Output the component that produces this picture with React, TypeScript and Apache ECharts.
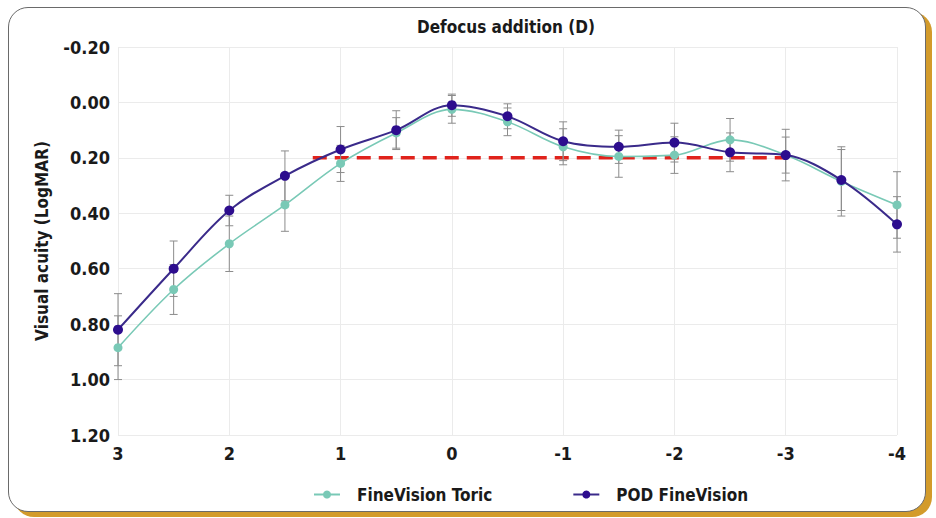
import React, { useEffect, useRef } from "react";
import * as echarts from "echarts";

const defocus = [3, 2.5, 2, 1.5, 1, 0.5, 0, -0.5, -1, -1.5, -2, -2.5, -3, -3.5, -4];
const toric = [0.885, 0.675, 0.51, 0.37, 0.22, 0.11, 0.025, 0.07, 0.16, 0.195, 0.19, 0.135, 0.19, 0.285, 0.37];
const toricSd = [0.115, 0.09, 0.1, 0.095, 0.065, 0.055, 0.05, 0.05, 0.065, 0.075, 0.066, 0.077, 0.065, 0.125, 0.12];
const pod = [0.82, 0.6, 0.39, 0.265, 0.17, 0.1, 0.01, 0.05, 0.14, 0.16, 0.145, 0.18, 0.19, 0.28, 0.44];
const podSd = [0.13, 0.1, 0.055, 0.09, 0.083, 0.07, 0.04, 0.045, 0.07, 0.06, 0.07, 0.07, 0.093, 0.11, 0.1];
const thresholdX = [1.25, -3];
const thresholdY = 0.2;
const seriesNames = ["FineVision Toric", "POD FineVision"];

const FONT = "'Liberation Sans Narrow', 'Arial Narrow', 'DejaVu Sans Condensed', sans-serif";

function errRender(params: any, api: any) {
  const x = api.value(0);
  const lo = api.coord([x, api.value(1)]);
  const hi = api.coord([x, api.value(2)]);
  const cap = 4;
  const style = { stroke: "#8c8c8c", lineWidth: 1 };
  return {
    type: "group",
    children: [
      { type: "line", shape: { x1: lo[0], y1: lo[1], x2: hi[0], y2: hi[1] }, style },
      { type: "line", shape: { x1: lo[0] - cap, y1: lo[1], x2: lo[0] + cap, y2: lo[1] }, style },
      { type: "line", shape: { x1: hi[0] - cap, y1: hi[1], x2: hi[0] + cap, y2: hi[1] }, style },
    ],
  };
}

export default function App() {
  const ref = useRef<HTMLDivElement>(null);
  useEffect(() => {
    if (!ref.current) return;
    const chart = echarts.init(ref.current, null, { renderer: "svg" });
    const toricData = defocus.map((x, i) => [x, toric[i]]);
    const podData = defocus.map((x, i) => [x, pod[i]]);
    const toricErr = defocus.map((x, i) => [x, toric[i] - toricSd[i], toric[i] + toricSd[i]]);
    const podErr = defocus.map((x, i) => [x, pod[i] - podSd[i], pod[i] + podSd[i]]);
    chart.setOption({
      animation: false,
      backgroundColor: "transparent",
      textStyle: { fontFamily: FONT },
      grid: { left: 118, right: 39, top: 47, bottom: 83 },
      graphic: [
        {
          type: "text",
          x: 506,
          y: 27,
          style: {
            text: "Defocus addition (D)",
            fill: "#1a1a1a",
            font: `bold 17px ${FONT}`,
            textAlign: "center",
            textVerticalAlign: "middle",
          },
        },
      ],
      legend: {
        data: seriesNames,
        left: 308,
        top: 481,
        itemWidth: 26,
        itemHeight: 10,
        itemGap: 80,
        textStyle: { fontFamily: FONT, fontWeight: "bold", fontSize: 17, color: "#1a1a1a", padding: [0, 0, 0, 12] },
      },
      xAxis: {
        type: "value",
        inverse: true,
        min: -4,
        max: 3,
        interval: 1,
        axisLine: { show: false },
        axisTick: { show: false },
        axisLabel: { fontFamily: FONT, fontWeight: "bold", fontSize: 18, color: "#1a1a1a", margin: 9 },
        splitLine: { show: true, lineStyle: { color: "#ebebeb", width: 1 } },
      },
      yAxis: {
        type: "value",
        inverse: true,
        min: -0.2,
        max: 1.2,
        interval: 0.2,
        name: "Visual acuity (LogMAR)",
        nameLocation: "middle",
        nameGap: 68,
        nameTextStyle: { fontFamily: FONT, fontWeight: "bold", fontSize: 17, color: "#1a1a1a" },
        axisLine: { show: false },
        axisTick: { show: false },
        axisLabel: {
          fontFamily: FONT,
          fontWeight: "bold",
          fontSize: 18,
          color: "#1a1a1a",
          margin: 8,
          formatter: (v: number) => v.toFixed(2),
        },
        splitLine: { show: true, lineStyle: { color: "#ebebeb", width: 1 } },
      },
      series: [
        {
          type: "line",
          name: "threshold",
          data: thresholdX.map((x) => [x, thresholdY]),
          symbol: "none",
          lineStyle: { color: "#e0231c", width: 3.5, type: [14, 8] },
          z: 1,
          silent: true,
        },
        {
          type: "custom",
          name: "toricErr",
          data: toricErr,
          renderItem: errRender,
          encode: { x: 0, y: [1, 2] },
          z: 2,
          silent: true,
        },
        {
          type: "custom",
          name: "podErr",
          data: podErr,
          renderItem: errRender,
          encode: { x: 0, y: [1, 2] },
          z: 2,
          silent: true,
        },
        {
          type: "line",
          name: seriesNames[0],
          data: toricData,
          smooth: 0.35,
          symbol: "circle",
          symbolSize: 9,
          itemStyle: { color: "#79c9b6" },
          lineStyle: { color: "#79c9b6", width: 1.6 },
          z: 3,
        },
        {
          type: "line",
          name: seriesNames[1],
          data: podData,
          smooth: 0.35,
          symbol: "circle",
          symbolSize: 10,
          itemStyle: { color: "#2d0d8e" },
          lineStyle: { color: "#3a2a8a", width: 2 },
          z: 4,
        },
      ],
    });
    return () => chart.dispose();
  }, []);
  return (
    <div style={{ position: "absolute", left: 0, top: 0, width: 936, height: 518, background: "#fff", overflow: "hidden" }}>
      <div
        style={{
          position: "absolute",
          left: 8,
          top: 7,
          width: 916,
          height: 503,
          border: "1.5px solid #6a6a6a",
          borderRadius: 20,
          background: "#fff",
          boxShadow: "6px 5px 0 #d39b2b",
        }}
      />
      <div ref={ref} style={{ position: "absolute", left: 0, top: 0, width: 936, height: 518 }} />
    </div>
  );
}
